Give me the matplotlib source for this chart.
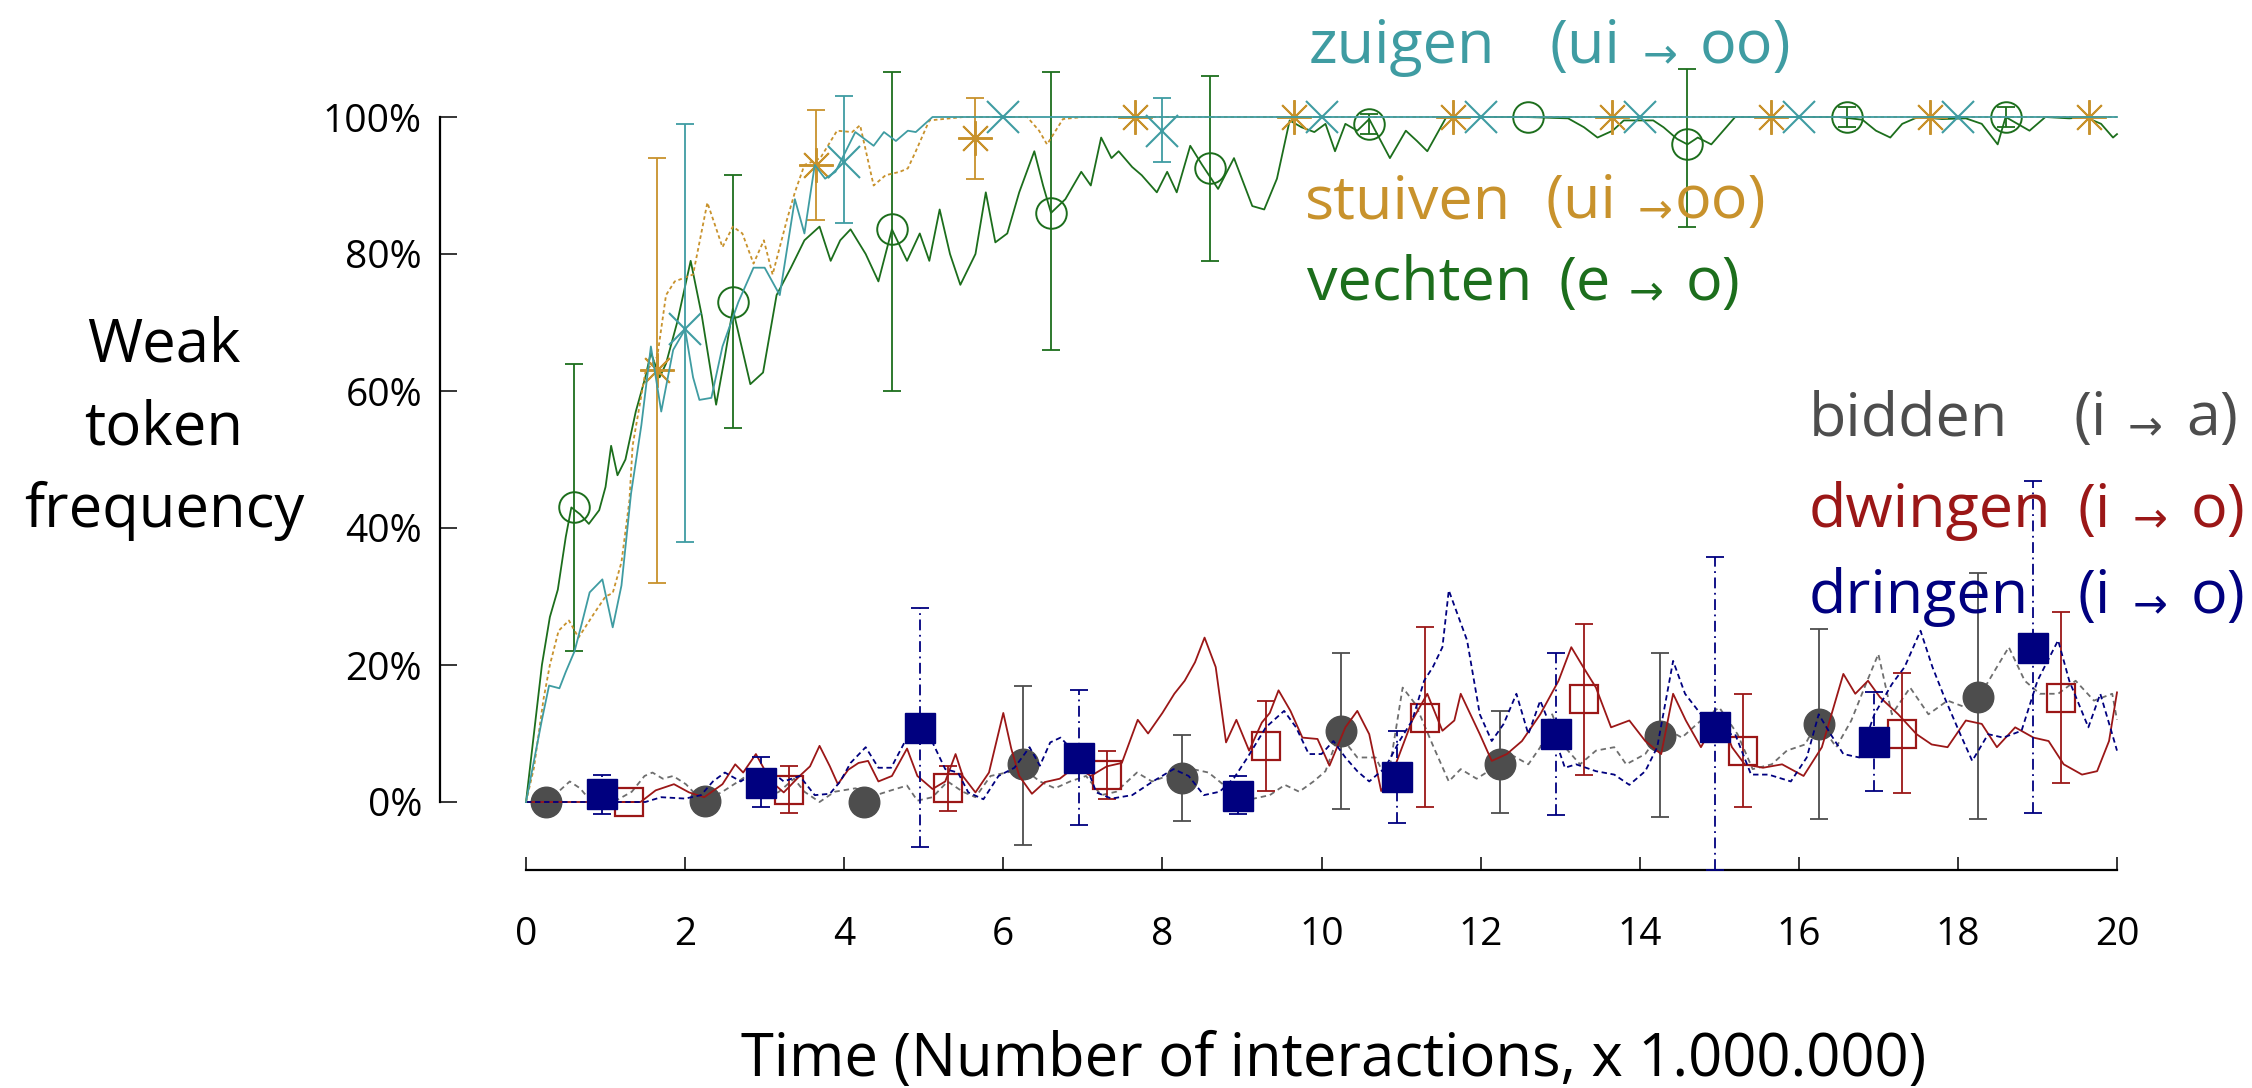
import numpy as np
import matplotlib
matplotlib.use("Agg")
import matplotlib.pyplot as plt

# ---------------- data ----------------
x_ticks = [0, 2, 4, 6, 8, 10, 12, 14, 16, 18, 20]
y_ticks = [0, 20, 40, 60, 80, 100]
y_tick_labels = ["0%", "20%", "40%", "60%", "80%", "100%"]

# zuigen (ui -> oo) : teal, solid line, x markers
zuigen_x = [0, 0.1, 0.2, 0.29, 0.42, 0.5, 0.61, 0.7, 0.8, 0.96, 1.09, 1.2, 1.32, 1.45, 1.57, 1.7, 1.85, 2.0,
            2.1, 2.18, 2.33, 2.47, 2.67, 2.86, 3.0, 3.19, 3.38, 3.5, 3.63, 3.76, 3.89, 4.14, 4.37, 4.5,
            4.65, 4.8, 4.9, 5.11, 6.0, 8.0, 10.0, 12.0, 14.0, 16.0, 18.0, 20.0]
zuigen_y = [0, 6, 12, 17, 16.6, 19, 22, 26, 30.6, 32.5, 25.5, 31.6, 45, 55, 66.5, 57, 66, 69,
            62, 58.7, 59, 66.5, 73, 78, 78, 74, 88, 83, 93, 91, 92, 97.8, 95.8, 97.8,
            96.5, 98, 97.8, 100, 100, 100, 100, 100, 100, 100, 100, 100]
zuigen_mx = [2.0, 4.0, 6.0, 8.0, 10.0, 12.0, 14.0, 16.0, 18.0]
zuigen_my = [69, 93.5, 100, 98, 100, 100, 100, 100, 100]
zuigen_lo = [38, 84.5, 100, 93.4, 100, 100, 100, 100, 100]
zuigen_hi = [99, 103, 100, 102.8, 100, 100, 100, 100, 100]

# stuiven (ui -> oo) : gold, dotted line, asterisks
stuiven_x = [0, 0.1, 0.22, 0.3, 0.41, 0.54, 0.66, 0.86, 1.0, 1.09, 1.2, 1.3, 1.34, 1.5, 1.65, 1.76, 1.87,
             2.1, 2.28, 2.47, 2.6, 2.72, 2.86, 2.99, 3.1, 3.28, 3.38, 3.5, 3.7, 3.91, 4.1, 4.2, 4.37,
             4.52, 4.7, 4.8, 4.9, 5.07, 5.5, 6.3, 6.45, 6.55, 6.75, 7.0, 8.0, 10.0, 12.0, 14.0, 16.0,
             18.0, 20.0]
stuiven_y = [0, 5, 15, 20, 25, 26.5, 24, 27.6, 30, 30.5, 35, 44, 52, 62.7, 65, 74, 76,
             77, 87.5, 81, 84, 83, 78.6, 82, 77, 85, 89, 93, 94, 98, 97.8, 98.8, 90,
             91.5, 92, 92.5, 95, 99.5, 100, 100, 98, 96, 99.7, 100, 100, 100, 100, 100, 100,
             100, 100]
stuiven_mx = [1.65, 3.65, 5.65, 7.65, 9.65, 11.65, 13.65, 15.65, 17.65, 19.65]
stuiven_my = [63, 93, 97, 100, 100, 100, 100, 100, 100, 100]
stuiven_lo = [32, 85, 91, 100, 100, 100, 100, 100, 100, 100]
stuiven_hi = [94, 101, 102.8, 100, 100, 100, 100, 100, 100, 100]

# vechten (e -> o) : green, solid line, open circles
vechten_x = [0, 0.1, 0.2, 0.3, 0.4, 0.5, 0.57, 0.68, 0.79, 0.92, 1.0, 1.07, 1.15, 1.25, 1.38, 1.5, 1.57,
             1.68, 1.76, 1.9, 2.07, 2.21, 2.39, 2.5, 2.6, 2.7, 2.82, 2.98, 3.15, 3.33, 3.5, 3.69, 3.83,
             3.95, 4.08, 4.27, 4.43, 4.6, 4.79, 4.95, 5.07, 5.2, 5.33, 5.46, 5.65, 5.78, 5.9, 6.05,
             6.2, 6.39, 6.5, 6.6, 6.78, 6.98, 7.1, 7.23, 7.36, 7.45, 7.62, 7.74, 7.93, 8.06, 8.18,
             8.35, 8.5, 8.7, 8.9, 9.13, 9.28, 9.44, 9.6, 9.75, 9.91, 10.05, 10.17, 10.3, 10.45, 10.6,
             10.86, 11.06, 11.2, 11.33, 11.57, 12.0, 12.57, 13.1, 13.3, 13.47, 13.66, 13.8, 14.17,
             14.3, 14.47, 14.6, 14.73, 14.9, 15.05, 15.2, 16.0, 16.5, 16.8, 16.97, 17.15, 17.3, 17.5,
             17.8, 18.1, 18.3, 18.5, 18.6, 18.75, 18.9, 19.1, 19.4, 19.6, 19.8, 19.95, 20.0]
vechten_y = [0, 10, 20, 27, 31, 38.7, 43, 42, 40.6, 42.6, 46, 52, 47.7, 50, 57, 62, 65.6,
             62, 64, 70, 79, 71, 58, 65, 72, 67, 61, 62.7, 74, 78, 82, 84, 79,
             82, 83.6, 80, 76, 83.6, 79, 83, 79, 86.5, 80, 75.5, 80, 89, 81.7, 83,
             89, 95, 90, 86, 88, 92, 90, 97, 94, 95, 92.7, 91.5, 89, 92, 89,
             95.8, 93, 89.5, 94, 87, 86.5, 91, 99.5, 98.5, 97.8, 99, 95, 99, 98, 99.7,
             94, 98, 96.5, 95, 100, 100, 100, 99.8, 98.5, 97, 98, 99.5, 99.5,
             98.5, 96.8, 96, 97, 96, 98, 100, 100, 100, 99.6, 98, 97, 99, 100,
             99.7, 99.8, 99, 96, 100, 99, 98, 100, 99.8, 100, 99, 97, 97.5]
vechten_mx = [0.6, 2.6, 4.6, 6.6, 8.6, 10.6, 12.6, 14.6, 16.6, 18.6]
vechten_my = [43, 73, 83.6, 86, 92.5, 99, 100, 96, 100, 100]
vechten_lo = [22, 54.6, 60, 66, 79, 97.5, 100, 84, 98.5, 98.5]
vechten_hi = [64, 91.5, 106.5, 106.5, 106, 100.5, 100, 107, 101.5, 101.5]

# bidden (i -> a) : gray, dashed line, filled circles
bidden_x = [0, 0.2, 0.36, 0.55, 0.68, 0.81, 1.1, 1.33, 1.49, 1.59, 1.72, 1.85, 2.01, 2.1, 2.3, 2.47, 2.67,
            2.83, 3.02, 3.18, 3.37, 3.5, 3.69, 3.88, 4.14, 4.4, 4.59, 4.79, 4.92, 5.11, 5.3, 5.49, 5.65,
            5.84, 6.04, 6.26, 6.46, 6.65, 6.84, 7.04, 7.23, 7.42, 7.68, 7.87, 8.06, 8.38, 8.58, 8.77,
            8.96, 9.15, 9.35, 9.54, 9.72, 9.9, 10.05, 10.22, 10.45, 10.68, 10.83, 11.02, 11.18, 11.41,
            11.6, 11.75, 11.95, 12.14, 12.37, 12.6, 12.75, 12.9, 13.06, 13.25, 13.45, 13.68, 13.83,
            14.07, 14.3, 14.53, 14.77, 15.0, 15.23, 15.42, 15.66, 15.85, 16.08, 16.24, 16.47, 16.66,
            16.86, 17.0, 17.17, 17.4, 17.63, 17.87, 18.1, 18.27, 18.49, 18.64, 18.84, 19.03, 19.26,
            19.48, 19.71, 19.94, 20.0]
bidden_y = [0, 0, 1, 3, 2, 0.2, 0, 1.5, 3.8, 4.3, 3.4, 3.8, 2.6, 1.5, 0.5, 1.5, 3,
            4.3, 0.5, 1.5, 3.4, 1.5, 0, 1.5, 2, 1, 1.7, 2.4, 0.2, 0.7, 3, 1.5, 0.7,
            3.8, 4.3, 4.8, 3, 2, 3, 3.8, 1, 1.5, 4.3, 3, 3.8, 4.8, 4.3, 2.5,
            1.5, 0.5, 1, 2.5, 1.5, 3, 4.5, 9.9, 6.5, 6.5, 3, 16.7, 14.3, 8,
            3, 4.8, 3.4, 4.8, 7, 5.5, 8, 12.8, 8, 5.5, 7.5, 8, 5.5,
            7, 10.9, 9.4, 11.9, 13.8, 9.9, 4.8, 5.5, 7.5, 8.4, 11.9, 8, 11.9,
            17.7, 21.6, 12.8, 16.7, 12.8, 14.8, 13.8, 15.4, 19.7, 22.6, 17.7, 15.8, 15.8,
            17.7, 14.8, 15.8, 12]
bidden_mx = [0.25, 2.25, 4.25, 6.25, 8.25, 10.25, 12.25, 14.25, 16.25, 18.25]
bidden_my = [0, 0.2, 0, 5.5, 3.5, 10.4, 5.6, 9.7, 11.4, 15.4]
bidden_lo = [0, 0.2, 0, -6.3, -2.8, -1, -1.6, -2.2, -2.5, -2.5]
bidden_hi = [0, 0.2, 0, 17, 9.8, 21.7, 13.3, 21.8, 25.3, 33.5]

# dwingen (i -> o) : dark red, solid line, open squares
dwingen_x = [0, 1.44, 1.63, 1.86, 2.05, 2.24, 2.47, 2.63, 2.73, 2.89, 3.08, 3.24, 3.44, 3.57, 3.69, 3.82,
             3.92, 4.05, 4.18, 4.3, 4.43, 4.6, 4.79, 4.92, 5.11, 5.27, 5.4, 5.49, 5.65, 5.82, 6.0, 6.1,
             6.2, 6.36, 6.52, 6.71, 6.91, 7.1, 7.3, 7.49, 7.69, 7.82, 8.0, 8.15, 8.28, 8.41, 8.53, 8.67,
             8.8, 8.93, 9.09, 9.25, 9.35, 9.46, 9.61, 9.76, 9.95, 10.1, 10.3, 10.45, 10.6, 10.75, 10.9,
             11.14, 11.33, 11.52, 11.67, 11.75, 11.99, 12.14, 12.33, 12.52, 12.75, 12.98, 13.14, 13.29,
             13.45, 13.64, 13.87, 14.07, 14.27, 14.42, 14.58, 14.77, 15.0, 15.16, 15.32, 15.55, 15.79,
             16.06, 16.29, 16.56, 16.71, 16.87, 17.02, 17.25, 17.48, 17.67, 17.87, 18.1, 18.3, 18.49,
             18.72, 18.95, 19.14, 19.33, 19.56, 19.75, 19.9, 20.0]
dwingen_y = [0, 0, 1.7, 2.6, 1.4, 0.7, 2.6, 5.5, 4.3, 7, 3, 1.4, 3.8, 5.2, 8.2, 5.2,
             2.6, 4.7, 5.7, 6, 3, 3.8, 7.8, 3.8, 1.9, 3, 7, 3.8, 1.4, 4.3, 13, 7.8,
             3.8, 1.2, 2.9, 3.4, 5.2, 3.8, 5.2, 5.7, 12, 10, 13, 15.8, 17.7, 20.4, 24, 19.7,
             8.7, 12, 7.5, 11.6, 13, 16.3, 13.3, 9.4, 9.2, 5.3, 10.9, 13.3, 9.9, 1.6, 4.5,
             11.9, 15.8, 10.4, 11.9, 15.8, 9.9, 6, 7, 8.9, 12.8, 17.7, 22.6, 19.7,
             16.7, 10.9, 11.9, 8.9, 7, 15.8, 11.9, 8, 12.8, 8, 5.5, 5, 5.5,
             3.8, 8, 18.7, 15.8, 17.7, 15.3, 12.8, 9.9, 8.4, 8, 11.9, 11.4, 8,
             10.9, 9.4, 8.9, 5.5, 4, 4.5, 8.9, 16]
dwingen_mx = [1.3, 3.3, 5.3, 7.3, 9.3, 11.3, 13.3, 15.3, 17.3, 19.3]
dwingen_my = [0, 1.8, 2, 4, 8.2, 12.3, 15, 7.4, 10, 15.2]
dwingen_lo = [0, -1.6, -1.3, 0.4, 1.6, -0.7, 4, -0.7, 1.3, 2.8]
dwingen_hi = [0, 5.3, 5.3, 7.4, 14.8, 25.6, 26, 15.8, 18.9, 27.7]

# dringen (i -> o) : navy, dashed line, filled squares
dringen_x = [0, 1.5, 1.7, 2.0, 2.2, 2.35, 2.5, 2.7, 2.9, 3.1, 3.24, 3.44, 3.63, 3.82, 3.95, 4.08, 4.27,
             4.43, 4.59, 4.79, 4.95, 5.11, 5.27, 5.43, 5.56, 5.75, 5.94, 6.14, 6.33, 6.46, 6.59, 6.72,
             6.85, 7.04, 7.17, 7.36, 7.62, 7.88, 8.14, 8.33, 8.52, 8.72, 8.9, 9.07, 9.3, 9.53, 9.68,
             9.84, 10.0, 10.15, 10.3, 10.45, 10.6, 10.8, 10.98, 11.14, 11.29, 11.4, 11.52, 11.6, 11.71,
             11.83, 11.99, 12.14, 12.29, 12.45, 12.6, 12.75, 12.9, 13.06, 13.2, 13.45, 13.68, 13.87,
             14.07, 14.22, 14.42, 14.57, 14.77, 15.0, 15.2, 15.4, 15.62, 15.9, 16.1, 16.25, 16.4, 16.56,
             16.76, 16.95, 17.17, 17.33, 17.53, 17.68, 17.83, 18.03, 18.18, 18.38, 18.57, 18.8, 19.0,
             19.26, 19.4, 19.64, 19.79, 19.94, 20.0]
dringen_y = [0, 0, 0.7, 0.5, 1, 3, 4.3, 3, 4.5, 4.3, 3, 3.8, 1, 1.2, 3, 5.7, 8,
             5, 5, 9.4, 10.8, 8.7, 4.8, 4.3, 1.4, 0.4, 3.8, 5, 8, 5.3, 8.7, 9.4,
             7.8, 5.3, 1.4, 0.5, 1, 3, 4.8, 3.8, 1, 1.5, 3.5, 6.5, 10.9, 13.3, 10.9,
             7, 7, 8.9, 6.5, 4.5, 3, 5, 8.9, 11.9, 17.7, 19.7, 22.6, 30.9, 27.4,
             23.6, 12.8, 8.9, 11.4, 15.8, 9.9, 14.8, 10.4, 5, 5.5, 4.5, 4, 2.5,
             4.5, 8, 20.6, 15.8, 12.8, 9.9, 9.9, 4, 4, 3, 6.5, 12.8, 9.9, 7,
             6.5, 12.8, 17.2, 19.7, 25, 19.7, 15.3, 9.9, 6, 9.9, 9.4, 10.4, 17.7,
             23.6, 17.7, 10.9, 15.8, 9.9, 7.5]
dringen_mx = [0.95, 2.95, 4.95, 6.95, 8.95, 10.95, 12.95, 14.95, 16.95, 18.95]
dringen_my = [1.2, 2.8, 10.8, 6.4, 0.9, 3.7, 10, 11, 8.8, 22.5]
dringen_lo = [-1.8, -0.7, -6.6, -3.4, -1.8, -3.1, -1.9, -9.9, 1.6, -1.6]
dringen_hi = [4, 6.6, 28.3, 16.3, 3.8, 10.4, 21.8, 35.7, 16, 46.8]

labels = {
    "zuigen": ("zuigen", "(ui", "oo)"),
    "stuiven": ("stuiven", "(ui", "oo)"),
    "vechten": ("vechten", "(e", "o)"),
    "bidden": ("bidden", "(i", "a)"),
    "dwingen": ("dwingen", "(i", "o)"),
    "dringen": ("dringen", "(i", "o)"),
}

# ---------------- style ----------------
C_TEAL = "#3f9ca2"
C_GOLD = "#c8922c"
C_GREEN = "#1c6e1c"
C_GRAY = "#4d4d4d"
C_GRAY_LINE = "#6e6e6e"
C_RED = "#9b1717"
C_NAVY = "#00007f"
FONT = ["Open Sans", "DejaVu Sans"]

W, H = 2252, 1088
X0, XS = 526.0, 79.55      # pixel of x=0, pixels per unit
Y0, YS = 802.0, 6.85       # pixel (from top) of 0%, pixels per percent
LEFT_PX, RIGHT_PX, BOTTOM_PX, TOP_PX = 440.0, 2150.0, 870.0, 30.0

fig = plt.figure(figsize=(W / 100, H / 100), dpi=100)
ax = fig.add_axes([LEFT_PX / W, (H - BOTTOM_PX) / H,
                   (RIGHT_PX - LEFT_PX) / W, (BOTTOM_PX - TOP_PX) / H])
ax.set_xlim((LEFT_PX - X0) / XS, (RIGHT_PX - X0) / XS)
ax.set_ylim((Y0 - BOTTOM_PX) / YS, (Y0 - TOP_PX) / YS)
ax.patch.set_alpha(0)

for s in ["top", "right"]:
    ax.spines[s].set_visible(False)
ax.spines["left"].set_bounds(0, 100)
ax.spines["bottom"].set_bounds(0, 20)
for s in ["left", "bottom"]:
    ax.spines[s].set_linewidth(1.6)

ax.set_xticks(x_ticks)
ax.set_xticklabels([str(v) for v in x_ticks])
ax.set_yticks(y_ticks)
ax.set_yticklabels(y_tick_labels)
ax.tick_params(axis="x", direction="in", length=9.5, width=1.1, pad=33, labelsize=28)
ax.tick_params(axis="y", direction="in", length=12, width=1.1, pad=13, labelsize=28)
for lab in ax.get_xticklabels() + ax.get_yticklabels():
    lab.set_family(FONT)

LW = 1.3


def draw_series(x, y, mx, my, lo, hi, color, ls, marker, ms, mfc, mew, z,
                ecolor=None, els="-", line_color=None):
    ax.plot(x, y, color=line_color or color, lw=LW, ls=ls, zorder=z)
    my_a = np.array(my, float)
    yerr = [my_a - np.array(lo, float), np.array(hi, float) - my_a]
    eb = ax.errorbar(mx, my, yerr=yerr, fmt="none", ecolor=ecolor or color,
                     elinewidth=1.3, capsize=6.5, capthick=1.3, zorder=z + 0.5)
    if els != "-":
        for lc in eb[2]:
            lc.set_linestyle(els)
    ax.plot(mx, my, ls="none", marker=marker, ms=ms, mfc=mfc,
            mec=color, mew=mew, zorder=z + 1)


# lower series
draw_series(bidden_x, bidden_y, bidden_mx, bidden_my, bidden_lo, bidden_hi,
            C_GRAY, (0, (3.0, 2.2)), "o", 22, C_GRAY, 1.0, 3, line_color=C_GRAY_LINE)
draw_series(dwingen_x, dwingen_y, dwingen_mx, dwingen_my, dwingen_lo, dwingen_hi,
            C_RED, "-", "s", 20, "none", 1.6, 4)
draw_series(dringen_x, dringen_y, dringen_mx, dringen_my, dringen_lo, dringen_hi,
            C_NAVY, (0, (3.0, 2.0)), "s", 22, C_NAVY, 1.0, 5, els=(0, (6, 2.5, 1, 2.5)))

# upper series
draw_series(vechten_x, vechten_y, vechten_mx, vechten_my, vechten_lo, vechten_hi,
            C_GREEN, "-", "o", 22, "none", 1.4, 6)
draw_series(stuiven_x, stuiven_y, stuiven_mx, stuiven_my, stuiven_lo, stuiven_hi,
            C_GOLD, (0, (2.0, 1.6)), (8, 2, 0), 25, C_GOLD, 1.4, 7)
draw_series(zuigen_x, zuigen_y, zuigen_mx, zuigen_my, zuigen_lo, zuigen_hi,
            C_TEAL, "-", "x", 23, C_TEAL, 1.5, 8)

# ---------------- texts ----------------
def ftext(x, y, s, **kw):
    fig.text(x / W, 1 - y / H, s, **kw)


LAB_FS = 44
ARROW_FS = 30
legend_pos = [
    ("zuigen", C_TEAL, 63, 1309, 1550, 1660, 1700),
    ("stuiven", C_GOLD, 218, 1305, 1546, 1655, 1675),
    ("vechten", C_GREEN, 300, 1307, 1558, 1646, 1686),
    ("bidden", C_GRAY, 435, 1809, 2073, 2145, 2186),
    ("dwingen", C_RED, 527, 1809, 2078, 2150, 2191),
    ("dringen", C_NAVY, 613, 1809, 2078, 2150, 2191),
]
for key, col, base, xa, xb, xarr, xc in legend_pos:
    a, b, c = labels[key]
    ftext(xa, base, a, color=col, fontsize=LAB_FS, family=FONT, ha="left", va="baseline")
    ftext(xb, base, b, color=col, fontsize=LAB_FS, family=FONT, ha="left", va="baseline")
    ftext(xarr, base + 4, "\u2192", color=col, fontsize=ARROW_FS, family=["DejaVu Sans"],
          ha="center", va="baseline")
    ftext(xc, base, c, color=col, fontsize=LAB_FS, family=FONT, ha="left", va="baseline")

for word, base in [("Weak", 362), ("token", 445), ("frequency", 527)]:
    ftext(164, base, word, color="black", fontsize=43, family=FONT, ha="center", va="baseline")

ftext(1334, 1076, "Time (Number of interactions, x 1.000.000)", color="black",
      fontsize=43, family=FONT, ha="center", va="baseline")

fig.savefig("out.png", dpi=100)
